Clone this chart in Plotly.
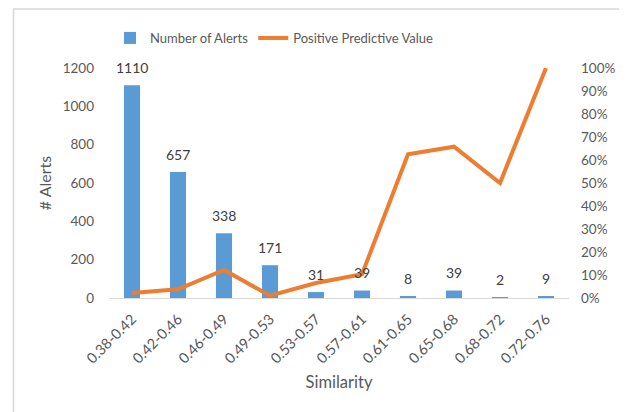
import plotly.graph_objects as go

categories = ["0.38-0.42", "0.42-0.46", "0.46-0.49", "0.49-0.53", "0.53-0.57",
              "0.57-0.61", "0.61-0.65", "0.65-0.68", "0.68-0.72", "0.72-0.76"]
alerts = [1110, 657, 338, 171, 31, 39, 8, 39, 2, 9]
ppv = [0.022, 0.038, 0.122, 0.010, 0.065, 0.103, 0.625, 0.658, 0.50, 1.00]
left_ticks = [0, 200, 400, 600, 800, 1000, 1200]
right_ticks = [0, 0.1, 0.2, 0.3, 0.4, 0.5, 0.6, 0.7, 0.8, 0.9, 1.0]

FONT = "Lato"
TICKC = "#595959"

fig = go.Figure()
fig.add_trace(go.Bar(
    x=categories, y=alerts, name="Number of Alerts",
    marker=dict(color="#5B9BD5", line=dict(width=0)),
    width=0.35, yaxis="y", hoverinfo="x+y",
))
fig.add_trace(go.Scatter(
    x=categories, y=ppv, name="Positive Predictive Value",
    mode="lines", line=dict(color="#ED7D31", width=4),
    yaxis="y2", cliponaxis=False,
))

for c, v in zip(categories, alerts):
    fig.add_annotation(x=c, y=v, xref="x", yref="y", text=str(v),
                       showarrow=False, yshift=18,
                       font=dict(family=FONT, size=14, color="#404040"))

# page body has an 8px margin: work in page pixels and offset
OFF = 8
W, H = 627 - OFF, 412 - OFF
PL, PR, PT, PB = 109, 569, 68, 298  # plot area in page pixels
L, T = PL - OFF, PT - OFF
pw, ph = PR - PL, PB - PT
R, B = W - L - pw, H - T - ph

def px(xp):
    return (xp - PL) / pw

def py(yp):
    return (PB - yp) / ph

border = "#d6d6d6"
fig.add_shape(type="line", xref="paper", yref="paper",
              x0=px(13), x1=px(640), y0=py(9), y1=py(9),
              line=dict(color=border, width=1.5))
fig.add_shape(type="line", xref="paper", yref="paper",
              x0=px(13.5), x1=px(13.5), y0=py(9), y1=py(420),
              line=dict(color=border, width=1.5))

fig.update_layout(
    width=W, height=H,
    margin=dict(l=L, r=R, t=T, b=B, pad=0, autoexpand=False),
    paper_bgcolor="white", plot_bgcolor="white",
    font=dict(family=FONT, size=13, color=TICKC),
    showlegend=True,
    legend=dict(orientation="h", x=px(110), xanchor="left", y=py(23), yanchor="top",
                font=dict(family=FONT, size=13, color=TICKC),
                itemwidth=30, traceorder="normal"),
    bargap=0.65,
    xaxis=dict(
        type="category", tickangle=-45, showgrid=False,
        showline=True, linecolor="#d9d9d9", linewidth=1,
        ticks="", tickfont=dict(family=FONT, size=14.5, color=TICKC),
        title=dict(text="Similarity", font=dict(family=FONT, size=16.5, color=TICKC), standoff=10),
        ticklabelstandoff=6, range=[-0.5, 9.5], automargin=False,
    ),
    yaxis=dict(
        range=[0, 1200], tickvals=left_ticks, showgrid=False, zeroline=False,
        showline=False, ticks="",
        tickfont=dict(family=FONT, size=13.5, color=TICKC),
        title=dict(text="# Alerts", font=dict(family=FONT, size=16, color=TICKC), standoff=7),
        ticklabelstandoff=14, automargin=False,
    ),
    yaxis2=dict(
        range=[0, 1], tickvals=right_ticks, tickformat=".0%", overlaying="y",
        side="right", showgrid=False, zeroline=False, showline=False, ticks="",
        tickfont=dict(family=FONT, size=13.5, color=TICKC),
        ticklabelstandoff=11, automargin=False,
    ),
)

fig.write_html("out.html")
